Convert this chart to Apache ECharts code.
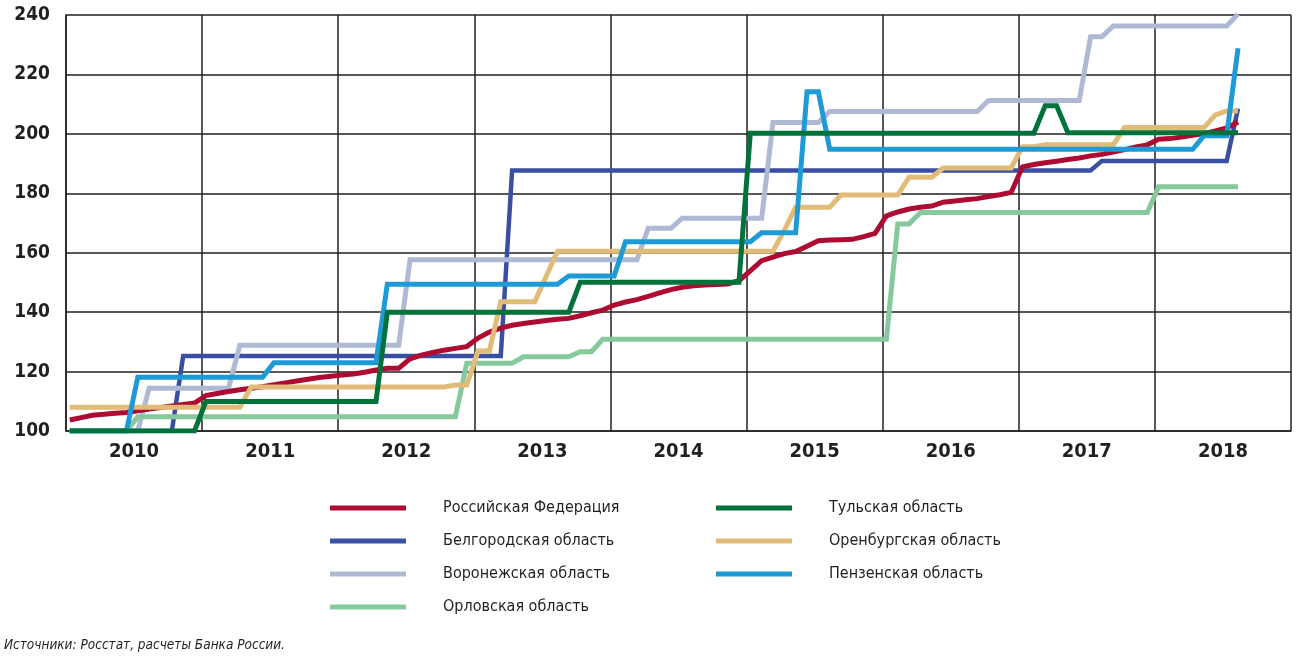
<!DOCTYPE html>
<html>
<head>
<meta charset="utf-8">
<script src="https://cdn.jsdelivr.net/npm/echarts@6/dist/echarts.min.js"></script>
<style>
html,body{margin:0;padding:0;background:#fff;}
#chart{width:1297px;height:660px;}
</style>
</head>
<body>
<div id="chart"></div>
<script>
// Year labels (category axis) and monthly index (Jan 2010 = 0 ... Aug 2018 = 103)
var years = ['2010','2011','2012','2013','2014','2015','2016','2017','2018'];
var yTicks = [100,120,140,160,180,200,220,240];

function rep(v,n){var a=[];for(var k=0;k<n;k++)a.push(v);return a;}

var russia = [103.7,104.5,105.3,105.6,106.0,106.2,106.8,107.4,107.9,108.4,108.9,109.4,
  111.9,112.6,113.3,113.9,114.4,114.9,115.6,116.2,116.8,117.4,118.0,118.4,
  118.8,119.2,119.8,120.5,121.1,121.1,124.3,125.5,126.4,127.2,127.8,128.4,
  131.3,133.3,134.6,135.6,136.2,136.7,137.2,137.6,137.9,138.8,139.8,140.7,
  142.4,143.4,144.2,145.3,146.5,147.6,148.4,148.9,149.1,149.3,149.5,150.6,
  153.9,157.3,158.5,159.7,160.4,162.2,164.0,164.3,164.4,164.5,165.4,166.5,
  172.4,173.7,174.7,175.3,175.7,177.0,177.4,177.8,178.2,178.9,179.5,180.3,
  188.9,189.7,190.3,190.8,191.4,191.9,192.6,193.1,193.9,194.7,195.6,196.3,
  198.2,198.4,198.9,199.5,200.1,201.0,202.0,204.0];

var belgorod = [].concat(rep(100,10),rep(125.2,29),rep(187.7,52),rep(190.9,12),[208.5]);
var voronezh = [].concat(rep(100,7),rep(114.4,8),rep(128.9,15),rep(157.6,21),rep(168.2,3),
  rep(171.6,8),rep(203.8,5),rep(207.5,14),rep(211.2,9),rep(232.7,2),rep(236.3,11),[240.3]);
var orel = [].concat(rep(100,6),rep(104.8,29),rep(122.8,5),rep(125,5),rep(126.7,2),
  rep(130.9,26),rep(169.7,2),rep(173.5,21),rep(182.2,8));
var tula = [].concat(rep(100,12),rep(109.9,16),rep(140,17),rep(150.1,15),rep(200.2,26),
  rep(209.5,2),rep(200.4,16));
var orenburg = [].concat(rep(108,16),rep(114.8,18),rep(115.5,2),rep(126.9,2),rep(143.5,4),[152],
  rep(160.5,20),[167.5],rep(175.3,4),rep(179.4,6),rep(185.4,3),rep(188.5,7),rep(195.7,2),
  rep(196.3,7),rep(202.1,8),[206.4],rep(207.7,2));
var penza = [].concat(rep(100,6),rep(118.1,12),rep(123,10),rep(149.4,16),rep(152.2,5),
  rep(163.7,12),rep(166.7,4),rep(214.2,2),rep(194.8,33),rep(199.4,3),[228.8]);

var names = {
  ru:'Российская Федерация', bel:'Белгородская область', vor:'Воронежская область',
  orl:'Орловская область', tul:'Тульская область', orb:'Оренбургская область', pen:'Пензенская область'
};

function pts(arr){return arr.map(function(v,i){return [i,v];});}

var ink = '#231f20';
var font = '"DejaVu Sans Condensed", "Liberation Sans", sans-serif';

function ser(name, data, color, w, z){
  return {name:name, type:'line', xAxisIndex:1, data:pts(data), symbol:'none', z:z,
    lineStyle:{color:color, width:w, cap:'butt', join:'miter'}, itemStyle:{color:color},
    emphasis:{disabled:true}, animation:false};
}

var chart = echarts.init(document.getElementById('chart'), null, {renderer:'canvas'});
var legendText = {fontFamily:font, fontSize:16, color:ink, padding:[0,0,0,32], lineHeight:20};

chart.setOption({
  backgroundColor:'#fff',
  animation:false,
  title:{text:'Источники: Росстат, расчеты Банка России.', left:4, top:638, padding:0,
    textStyle:{fontFamily:font, fontSize:13.5, fontStyle:'italic', fontWeight:'normal', color:ink}},
  grid:{left:66, right:6, top:15, bottom:229, containLabel:false},
  legend:[
    {orient:'vertical', left:330, top:498, padding:0, itemWidth:76, itemHeight:5, itemGap:13, icon:'rect',
     selectedMode:false, textStyle:legendText,
     data:[names.ru, names.bel, names.vor, names.orl]},
    {orient:'vertical', left:716, top:498, padding:0, itemWidth:76, itemHeight:5, itemGap:13, icon:'rect',
     selectedMode:false, textStyle:legendText,
     data:[names.tul, names.orb, names.pen]}
  ],
  xAxis:[
    {type:'category', data:years, boundaryGap:true,
     axisLine:{show:true, onZero:false, lineStyle:{color:ink, width:1.5}},
     axisTick:{show:false},
     splitLine:{show:true, interval:0, lineStyle:{color:ink, width:1.5}},
     axisLabel:{interval:0, margin:11, fontFamily:font, fontSize:20, fontWeight:'bold', color:ink}},
    {type:'value', min:-0.33, max:107.67, show:false}
  ],
  yAxis:{type:'value', min:yTicks[0], max:yTicks[yTicks.length-1], interval:20,
    axisLine:{show:true, onZero:false, lineStyle:{color:ink, width:1.5}},
    axisTick:{show:false},
    splitLine:{show:true, lineStyle:{color:ink, width:1.5}},
    axisLabel:{margin:16, fontFamily:font, fontSize:19, fontWeight:'bold', color:ink}},
  series:[
    ser(names.bel, belgorod, '#3A4FA3', 4.5, 2),
    ser(names.vor, voronezh, '#AFB9D3', 5, 3),
    ser(names.orl, orel, '#85C99C', 5, 4),
    ser(names.ru, russia, '#AE0B32', 5, 5),
    ser(names.orb, orenburg, '#E0BC78', 5, 6),
    ser(names.pen, penza, '#1E9AD6', 5, 7),
    ser(names.tul, tula, '#00723A', 5, 8)
  ]
});
</script>
</body>
</html>
